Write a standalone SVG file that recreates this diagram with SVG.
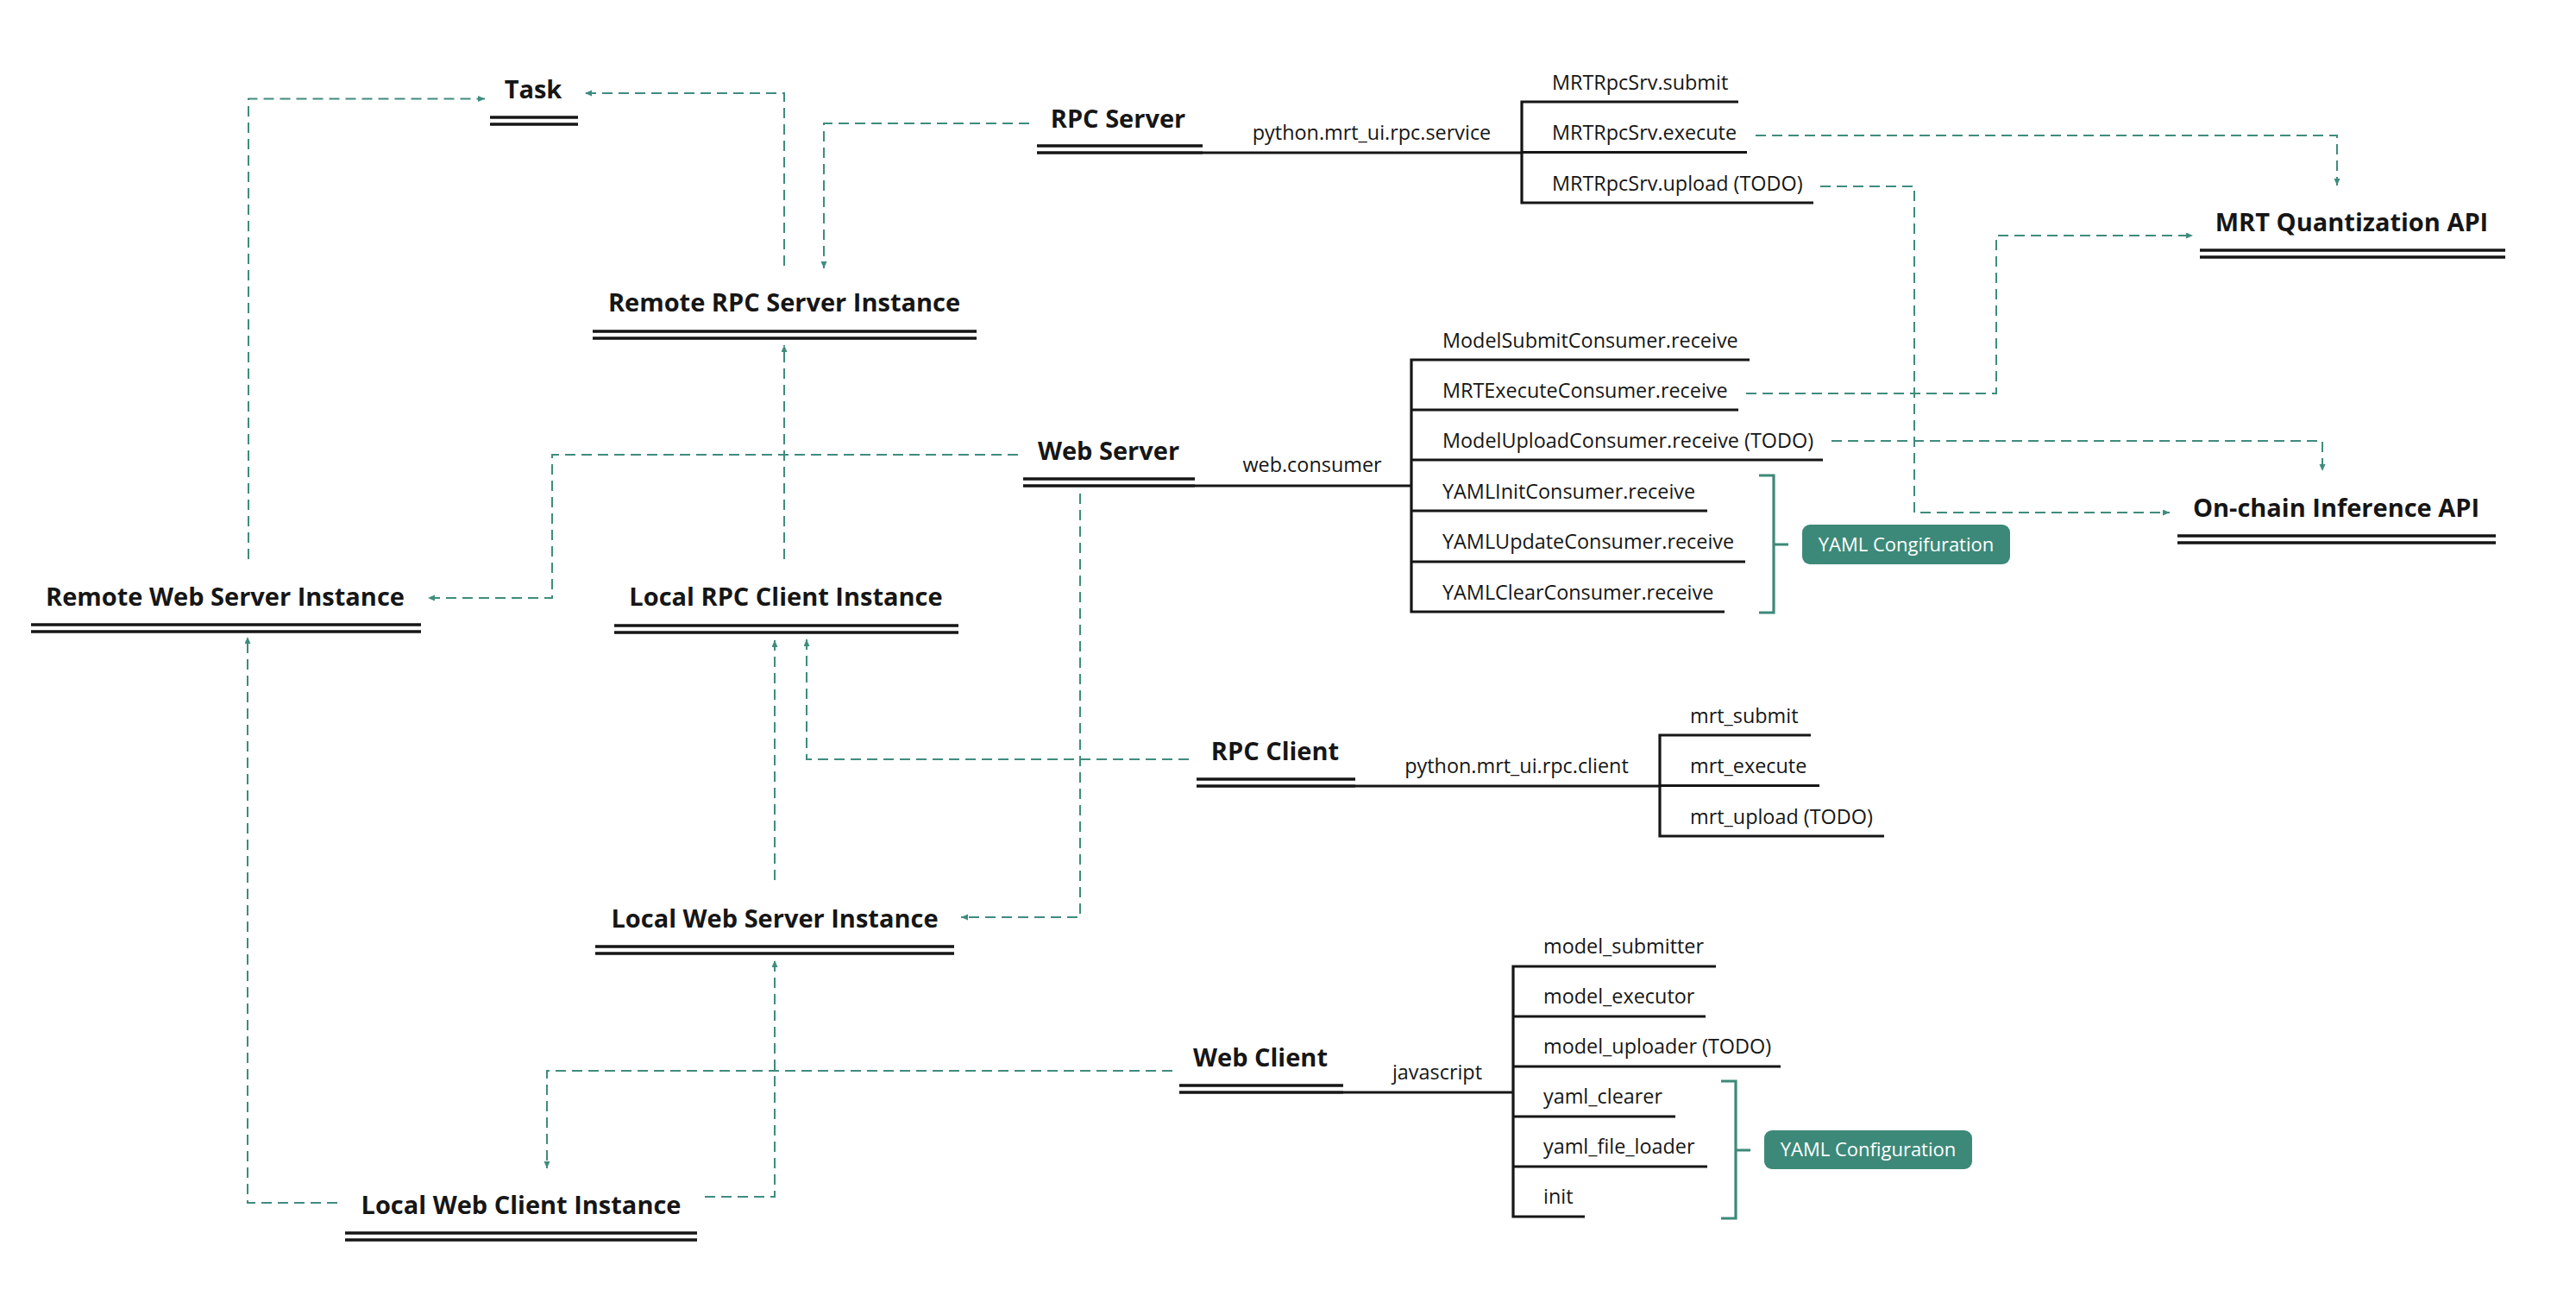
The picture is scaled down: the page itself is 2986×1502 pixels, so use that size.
<svg xmlns="http://www.w3.org/2000/svg" width="2986" height="1502" viewBox="0 0 2986 1502">
<defs>
<style>
.title{font-family:"Open Sans","Noto Sans","Liberation Sans",sans-serif;font-weight:700;font-size:29px;fill:#161616;text-anchor:middle}
.item{font-family:"Open Sans","Noto Sans","Liberation Sans",sans-serif;font-weight:400;font-size:23.4px;fill:#161616}
.lbl{font-family:"Open Sans","Noto Sans","Liberation Sans",sans-serif;font-weight:400;font-size:23.4px;fill:#161616;text-anchor:middle}
.badge-t{font-family:"Open Sans","Noto Sans","Liberation Sans",sans-serif;font-weight:400;font-size:22px;fill:#ffffff;text-anchor:middle}
.dbl{stroke:#161616;stroke-width:3.5;fill:none}
.tree{stroke:#161616;stroke-width:3.2;fill:none}
.brk{stroke:#3d8979;stroke-width:3.2;fill:none}
.badge{fill:#3d8979}
.dash{stroke:#3f8c7d;stroke-width:2;fill:none;stroke-dasharray:12 7;marker-end:url(#arr)}
</style>
<marker id="arr" markerUnits="userSpaceOnUse" markerWidth="10" markerHeight="8" refX="8" refY="3.5" orient="auto">
<path d="M0,0 L8,3.5 L0,7 z" fill="#3f8c7d"/>
</marker>
</defs>
<rect width="2986" height="1502" fill="#ffffff"/>

<g id="connectors">
<path class="dash" d="M288,648 V114.5 H562"/>
<path class="dash" d="M909,308 V108 H678"/>
<path class="dash" d="M1193,143 H955 V311"/>
<path class="dash" d="M909,648 V400"/>
<path class="dash" d="M1180,527 H640 V693 H496"/>
<path class="dash" d="M1252,572 V1063 H1114"/>
<path class="dash" d="M1378,880 H935 V741"/>
<path class="dash" d="M898,1020 V742"/>
<path class="dash" d="M817,1387 H898 V1113"/>
<path class="dash" d="M391,1394 H287 V738"/>
<path class="dash" d="M1359,1241 H634 V1354"/>
<path class="dash" d="M2035,157 H2709 V215"/>
<path class="dash" d="M2110,216 H2219 V594 H2515"/>
<path class="dash" d="M2024,456 H2314 V273 H2542"/>
<path class="dash" d="M2123,511 H2692 V546"/>
</g>

<g id="task">
<text class="title" x="618" y="114">Task</text>
<path class="dbl" d="M568,136 H670 M568,144 H670"/>
</g>

<g id="rpc-server">
<text class="title" x="1296" y="148">RPC Server</text>
<path class="dbl" d="M1202,169 H1394 M1202,177 H1394"/>
<path class="tree" d="M1394,177 H1764 M2015,118 H1764 V235 H2102 M1764,176.5 H2025"/>
<text class="lbl" x="1590" y="162">python.mrt_ui.rpc.service</text>
<text class="item" x="1799" y="104">MRTRpcSrv.submit</text>
<text class="item" x="1799" y="162">MRTRpcSrv.execute</text>
<text class="item" x="1799" y="221">MRTRpcSrv.upload (TODO)</text>
</g>

<g id="remote-rpc-server-instance">
<text class="title" x="909" y="361">Remote RPC Server Instance</text>
<path class="dbl" d="M687,384 H1132 M687,392 H1132"/>
</g>

<g id="web-server">
<text class="title" x="1285" y="533">Web Server</text>
<path class="dbl" d="M1186,555 H1385 M1186,563 H1385"/>
<path class="tree" d="M1385,563 H1636 M2028,417 H1636 V709 H1999 M1636,475 H2015 M1636,533 H2113 M1636,592 H1979 M1636,651 H2023"/>
<text class="lbl" x="1521" y="547">web.consumer</text>
<text class="item" x="1672" y="403">ModelSubmitConsumer.receive</text>
<text class="item" x="1672" y="461">MRTExecuteConsumer.receive</text>
<text class="item" x="1672" y="519">ModelUploadConsumer.receive (TODO)</text>
<text class="item" x="1672" y="578">YAMLInitConsumer.receive</text>
<text class="item" x="1672" y="636">YAMLUpdateConsumer.receive</text>
<text class="item" x="1672" y="695">YAMLClearConsumer.receive</text>
<path class="brk" d="M2039,551 H2056 V710 H2039 M2056,631 H2073"/>
<rect class="badge" x="2089" y="608" width="241" height="46" rx="9"/>
<text class="badge-t" x="2209.5" y="639">YAML Congifuration</text>
</g>

<g id="mrt-quantization-api">
<text class="title" x="2726" y="268">MRT Quantization API</text>
<path class="dbl" d="M2550,290 H2904 M2550,298 H2904"/>
</g>

<g id="on-chain-inference-api">
<text class="title" x="2708" y="599">On-chain Inference API</text>
<path class="dbl" d="M2524,621 H2893 M2524,629 H2893"/>
</g>

<g id="remote-web-server-instance">
<text class="title" x="261" y="702">Remote Web Server Instance</text>
<path class="dbl" d="M36,724 H488 M36,732 H488"/>
</g>

<g id="local-rpc-client-instance">
<text class="title" x="911" y="702">Local RPC Client Instance</text>
<path class="dbl" d="M712,725 H1111 M712,733 H1111"/>
</g>

<g id="rpc-client">
<text class="title" x="1478" y="881">RPC Client</text>
<path class="dbl" d="M1387,903 H1571 M1387,911 H1571"/>
<path class="tree" d="M1571,911 H1924 M2099,852 H1924 V969 H2184 M1924,910.5 H2109"/>
<text class="lbl" x="1758" y="896">python.mrt_ui.rpc.client</text>
<text class="item" x="1959" y="838">mrt_submit</text>
<text class="item" x="1959" y="896">mrt_execute</text>
<text class="item" x="1959" y="955">mrt_upload (TODO)</text>
</g>

<g id="local-web-server-instance">
<text class="title" x="898" y="1075">Local Web Server Instance</text>
<path class="dbl" d="M690,1097 H1106 M690,1105 H1106"/>
</g>

<g id="web-client">
<text class="title" x="1461" y="1236">Web Client</text>
<path class="dbl" d="M1367,1258 H1557 M1367,1266 H1557"/>
<path class="tree" d="M1557,1266 H1754 M1989,1120 H1754 V1410 H1837 M1754,1178 H1977 M1754,1236 H2064 M1754,1294 H1942 M1754,1352 H1979"/>
<text class="lbl" x="1666" y="1251">javascript</text>
<text class="item" x="1789" y="1105">model_submitter</text>
<text class="item" x="1789" y="1163">model_executor</text>
<text class="item" x="1789" y="1221">model_uploader (TODO)</text>
<text class="item" x="1789" y="1279">yaml_clearer</text>
<text class="item" x="1789" y="1337">yaml_file_loader</text>
<text class="item" x="1789" y="1395">init</text>
<path class="brk" d="M1995,1253 H2012 V1412 H1995 M2012,1333 H2029"/>
<rect class="badge" x="2045" y="1310" width="241" height="45" rx="9"/>
<text class="badge-t" x="2165.5" y="1340">YAML Configuration</text>
</g>

<g id="local-web-client-instance">
<text class="title" x="604" y="1407">Local Web Client Instance</text>
<path class="dbl" d="M400,1429 H808 M400,1437 H808"/>
</g>
</svg>
